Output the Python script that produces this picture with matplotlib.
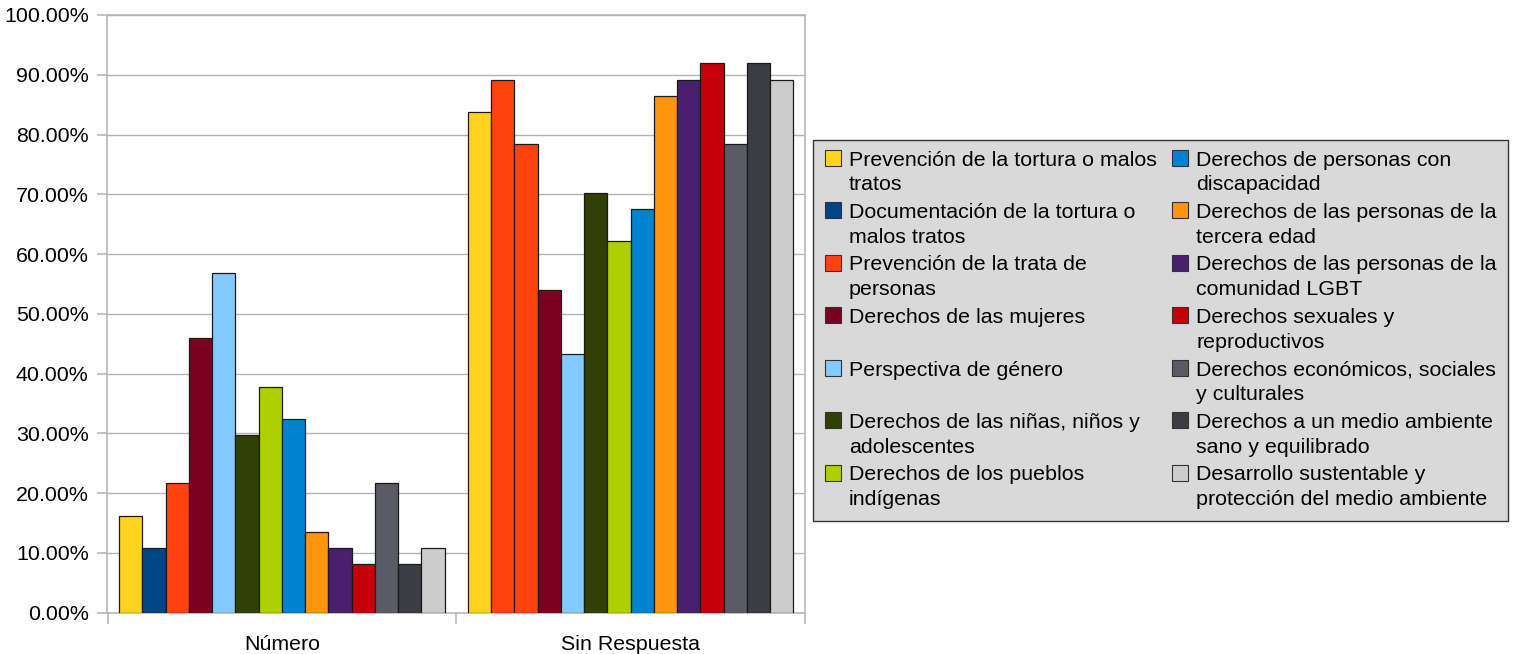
import numpy as np
import matplotlib
matplotlib.use("Agg")
import matplotlib.pyplot as plt
from matplotlib.patches import Rectangle
from matplotlib.ticker import FuncFormatter, MultipleLocator

plt.rcParams['font.family'] = ['Liberation Sans', 'DejaVu Sans']

#-----------------------------------------------
# data
#-----------------------------------------------
groups = ['Número', 'Sin Respuesta']

series = [
    'Prevención de la tortura o malos\ntratos',
    'Documentación de la tortura o\nmalos tratos',
    'Prevención de la trata de\npersonas',
    'Derechos de las mujeres',
    'Perspectiva de género',
    'Derechos de las niñas, niños y\nadolescentes',
    'Derechos de los pueblos\nindígenas',
    'Derechos de personas con\ndiscapacidad',
    'Derechos de las personas de la\ntercera edad',
    'Derechos de las personas de la\ncomunidad LGBT',
    'Derechos sexuales y\nreproductivos',
    'Derechos económicos, sociales\ny culturales',
    'Derechos a un medio ambiente\nsano y equilibrado',
    'Desarrollo sustentable y\nprotección del medio ambiente',
]

numero = [16.22, 10.81, 21.62, 45.95, 56.76, 29.73, 37.84,
          32.43, 13.51, 10.81, 8.11, 21.62, 8.11, 10.81]
sin_respuesta = [83.78, 89.19, 78.38, 54.05, 43.24, 70.27, 62.16,
                 67.57, 86.49, 89.19, 91.89, 78.38, 91.89, 89.19]

colors = ['#FFD320', '#004586', '#FF420E', '#7E0021', '#83CAFF', '#314004', '#AECF00',
          '#0084D1', '#FF950E', '#4B1F6F', '#C5000B', '#5B5B66', '#3C3C43', '#CCCCCC']

# the second series shows in orange-red in the "Sin Respuesta" group of the original
point_colors = [list(colors), list(colors)]
point_colors[1][1] = '#FF420E'

#-----------------------------------------------
# figure
#-----------------------------------------------
W, H = 1513, 654
fig = plt.figure(figsize=(W / 100, H / 100), dpi=100)
ax = fig.add_axes([107.5 / W, 1 - 612.7 / H, (805 - 107.5) / W, (612.7 - 15) / H])

n = len(series)
span = 0.934
bw = span / n
x = np.arange(len(groups))
for i in range(n):
    vals = [numero[i], sin_respuesta[i]]
    pos = x - span / 2 + (i + 0.5) * bw
    ax.bar(pos, vals, width=bw, color=[point_colors[0][i], point_colors[1][i]],
           edgecolor='#1a1a1a', linewidth=0.9, zorder=3)

grid_c = '#B3B3B3'
ax.set_xlim(-0.5, 1.5)
ax.set_ylim(0, 100)
ax.yaxis.set_major_locator(MultipleLocator(10))
ax.yaxis.set_major_formatter(FuncFormatter(lambda v, p: '%.2f%%' % v))
ax.grid(axis='y', color=grid_c, linewidth=1.0, zorder=0)
for s in ax.spines.values():
    s.set_color(grid_c)
    s.set_linewidth(1.1)

ax.set_xticks(x)
ax.set_xticklabels(groups)
ax.set_xticks([-0.5, 0.5, 1.5], minor=True)
ax.tick_params(axis='x', which='major', length=0, pad=16, labelsize=15.4)
ax.tick_params(axis='x', which='minor', length=8, width=1.1, color=grid_c)
ax.tick_params(axis='y', length=7.5, width=1.1, color=grid_c, pad=6, labelsize=15.4)

#-----------------------------------------------
# legend (drawn on an overlay in pixel coordinates)
#-----------------------------------------------
lg = fig.add_axes([0, 0, 1, 1], facecolor='none')
lg.set_xlim(0, W)
lg.set_ylim(H, 0)
lg.axis('off')

lg.add_patch(Rectangle((812.5, 140), 1507.5 - 812.5, 521 - 140,
                       facecolor='#D9D9D9', edgecolor='#333333', linewidth=1.0))

col_x = [(824.5, 849), (1172, 1196)]
rows = 7
for i, (lab, c) in enumerate(zip(series, colors)):
    col, row = divmod(i, rows)
    hx, tx = col_x[col]
    base = 165.5 + row * 52.5
    lg.add_patch(Rectangle((hx, base - 16), 16, 16, facecolor=c,
                           edgecolor='#333333', linewidth=0.8))
    for j, line in enumerate(lab.split('\n')):
        lg.text(tx, base + j * 24.7, line, fontsize=15.4, va='baseline', ha='left',
                color='#000000')

fig.savefig('out.png', dpi=100)
